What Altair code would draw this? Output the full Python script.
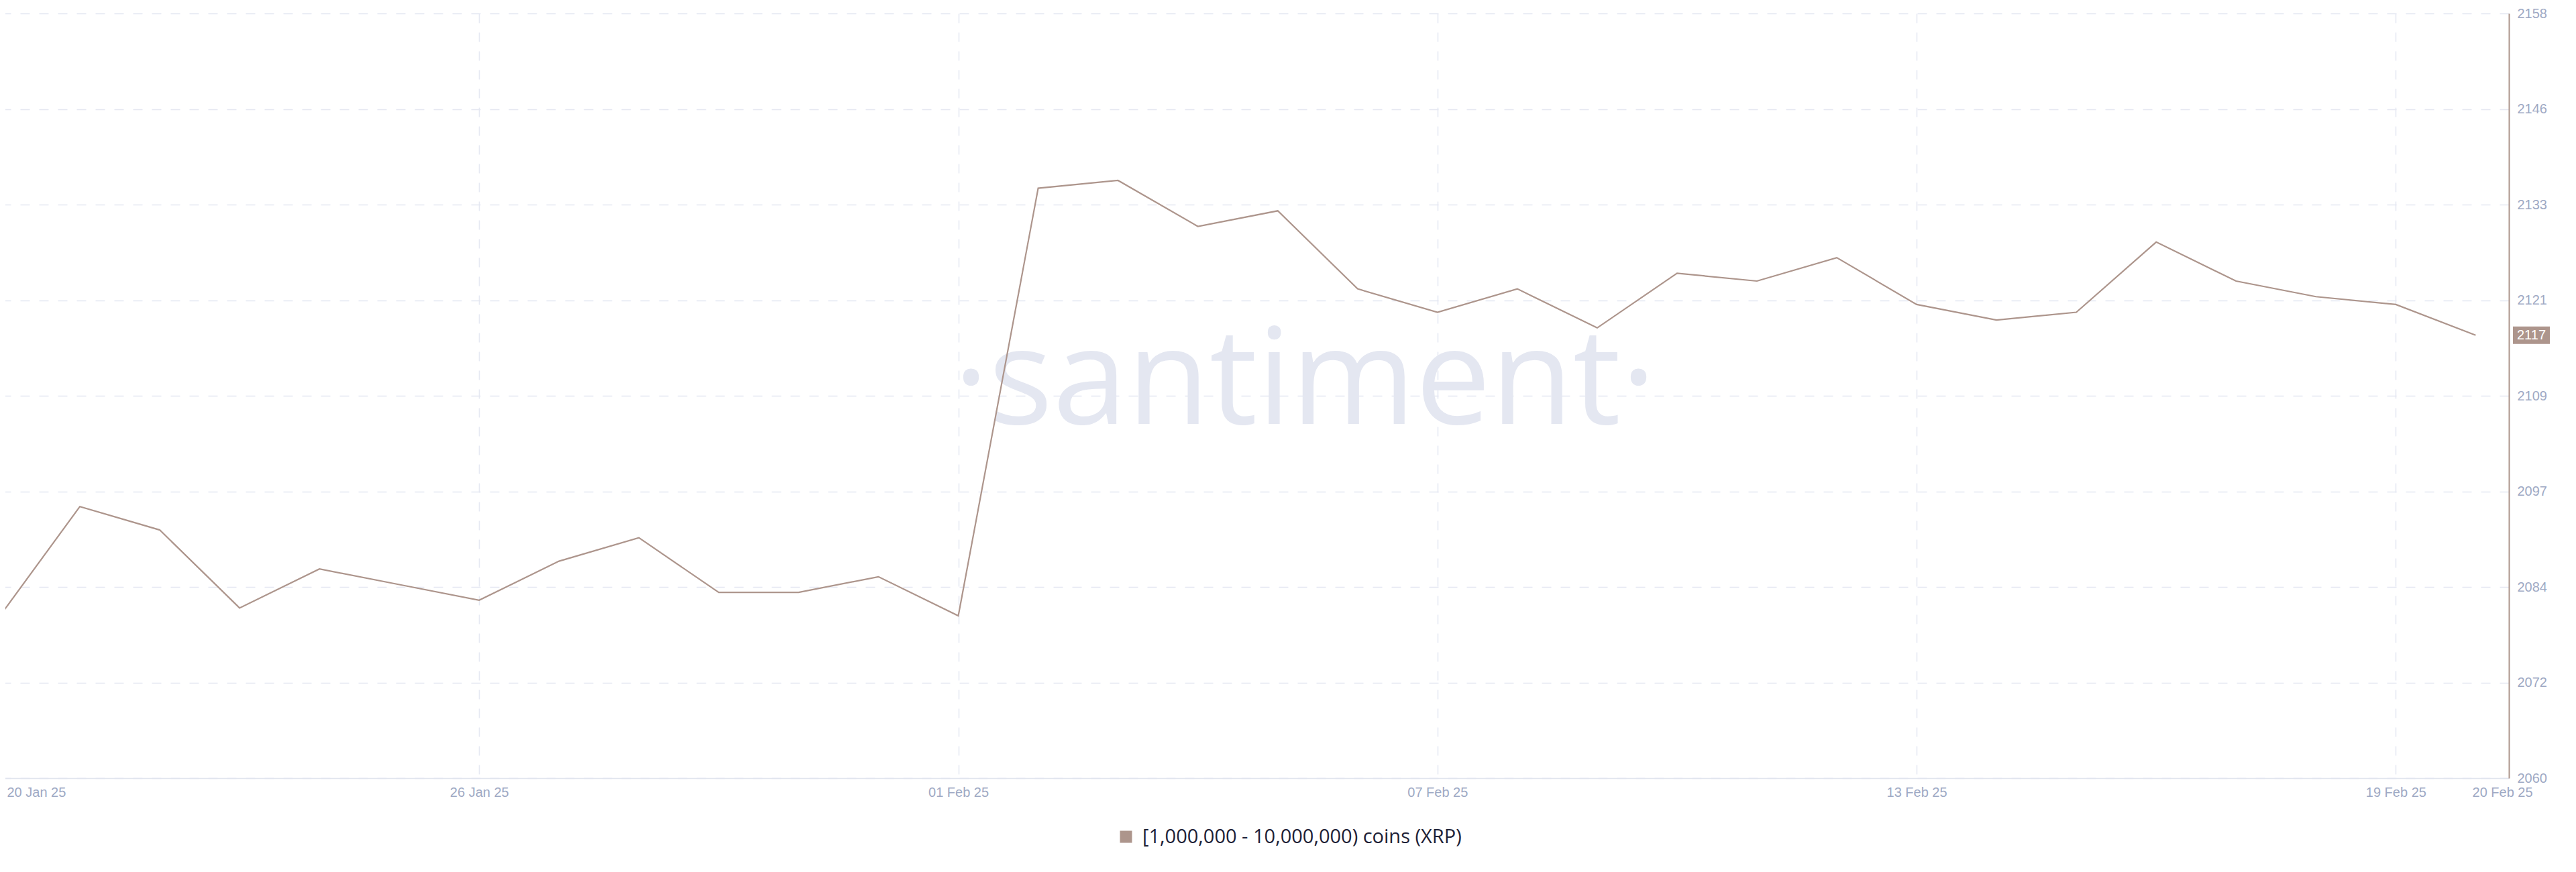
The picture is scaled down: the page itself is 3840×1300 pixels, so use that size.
import altair as alt
import pandas as pd

# ---- data ----
dates = [
    "2025-01-20", "2025-01-21", "2025-01-22", "2025-01-23", "2025-01-24",
    "2025-01-25", "2025-01-26", "2025-01-27", "2025-01-28", "2025-01-29",
    "2025-01-30", "2025-01-31", "2025-02-01", "2025-02-02", "2025-02-03",
    "2025-02-04", "2025-02-05", "2025-02-06", "2025-02-07", "2025-02-08",
    "2025-02-09", "2025-02-10", "2025-02-11", "2025-02-12", "2025-02-13",
    "2025-02-14", "2025-02-15", "2025-02-16", "2025-02-17", "2025-02-18",
    "2025-02-19", "2025-02-20",
]
values = [
    2080.8, 2094.8, 2091.8, 2081.8, 2086.8, 2084.8, 2082.8, 2087.8,
    2090.8, 2083.8, 2083.8, 2085.8, 2080.8, 2135.6, 2136.6, 2130.7,
    2132.7, 2122.7, 2119.7, 2122.7, 2117.7, 2124.7, 2123.7, 2126.7,
    2120.7, 2118.7, 2119.7, 2128.7, 2123.7, 2121.7, 2120.7, 2116.75,
]
series_name = "[1,000,000 - 10,000,000) coins (XRP)"

y_ticks = [2060, 2072.25, 2084.5, 2096.75, 2109, 2121.25, 2133.5, 2145.75, 2158]
y_tick_labels = ["2060", "2072", "2084", "2097", "2109", "2121", "2133", "2146", "2158"]

x_tick_dates = [(1, 20, 0), (1, 26, 0), (2, 1, 0), (2, 7, 0), (2, 13, 0), (2, 19, 0), (2, 20, 8)]
watermark = "·santiment·"

# ---- styling ----
LINE_COLOR = "#ad958c"
GRID_COLOR = "#e4e7f1"
WM_COLOR = "#e4e7f1"
LABEL_COLOR = "#9ea9c4"
AXIS_FONT = "Liberation Sans"

df = pd.DataFrame({"date": dates, "value": values, "series": series_name})
last_df = df.tail(1)
wm_df = pd.DataFrame({"t": [watermark]})

y_label_expr = " : ".join(
    [f"datum.value == {v} ? '{lab}'" for v, lab in zip(y_ticks, y_tick_labels)]
) + " : ''"

x_scale = alt.Scale(
    type="utc",
    domain=[
        alt.DateTime(year=2025, month=1, date=20, utc=True),
        alt.DateTime(year=2025, month=2, date=20, hours=10, utc=True),
    ],
)
y_scale = alt.Scale(domain=[2060, 2158], nice=False, zero=False)

x_axis = alt.Axis(
    values=[alt.DateTime(year=2025, month=m, date=d, hours=h, utc=True) for m, d, h in x_tick_dates],
    labelExpr="utcFormat(datum.value, '%d %b %y')",
    title=None,
    grid=True,
    gridDash=[14, 14],
    gridColor=GRID_COLOR,
    gridWidth=1.5,
    gridOpacity={"condition": {"test": "datum.value > utc(2025, 1, 19, 12)", "value": 0}, "value": 1},
    ticks=False,
    domainColor="#e0e4ee",
    domainWidth=1.5,
    labelFont=AXIS_FONT,
    labelFontSize=20,
    labelColor=LABEL_COLOR,
    labelPadding=11,
    labelFlush=True,
    labelFlushOffset=-10,
    labelOverlap=False,
)

y_axis = alt.Axis(
    orient="right",
    values=y_ticks,
    labelExpr=y_label_expr,
    title=None,
    grid=True,
    gridDash=[14, 14],
    gridColor=GRID_COLOR,
    gridWidth=1.5,
    ticks=False,
    domainColor=LINE_COLOR,
    domainWidth=2,
    labelFont=AXIS_FONT,
    labelFontSize=20,
    labelColor=LABEL_COLOR,
    labelPadding=12,
    labelAlign="left",
    labelBaseline="middle",
)

PLOT_TOP = 20  # page y of the plot's top edge
WM_BASELINE = 632 - PLOT_TOP

wm = alt.Chart(wm_df).mark_text(
    font="Open Sans",
    fontSize=200,
    color=WM_COLOR,
    align="center",
    baseline="alphabetic",
).encode(x=alt.value(1945), y=alt.value(WM_BASELINE), text="t:N")

line = alt.Chart(df).mark_line(strokeWidth=2.2).encode(
    x=alt.X("date:T", scale=x_scale, axis=x_axis),
    y=alt.Y("value:Q", scale=y_scale, axis=y_axis),
    color=alt.Color(
        "series:N",
        scale=alt.Scale(range=[LINE_COLOR]),
        legend=alt.Legend(
            title=None,
            orient="none",
            legendX=1664,
            legendY=1213,
            symbolType="square",
            symbolSize=324,
            symbolFillColor=LINE_COLOR,
            symbolStrokeColor=LINE_COLOR,
            symbolStrokeWidth=0,
            labelFont="Open Sans",
            labelFontSize=29,
            labelColor="#1d2136",
            labelOffset=10,
            labelLimit=1000,
            padding=0,
        ),
    ),
)

badge = alt.Chart(last_df).mark_point(
    shape="M-1,-0.4727L1,-0.4727L1,0.4727L-1,0.4727Z",
    filled=True,
    size=3025,
    color=LINE_COLOR,
    opacity=1,
    strokeWidth=0,
).encode(x=alt.value(3773.5), y=alt.Y("value:Q"))

badge_text = alt.Chart(last_df).mark_text(
    align="left",
    baseline="middle",
    font=AXIS_FONT,
    fontSize=20,
    color="white",
).encode(x=alt.value(3752), y=alt.Y("value:Q"), text=alt.Text("value:Q", format=".0f"))

chart = (
    alt.layer(wm, line, badge, badge_text)
    .properties(
        width=3740,
        height=1160 - PLOT_TOP,
        padding={"left": -8, "top": PLOT_TOP - 8, "right": 90, "bottom": 130},
        autosize=alt.AutoSizeParams(type="none"),
        background="white",
    )
    .configure_view(strokeWidth=0)
)

chart.save("out.html", embed_options={"renderer": "svg", "actions": False})
